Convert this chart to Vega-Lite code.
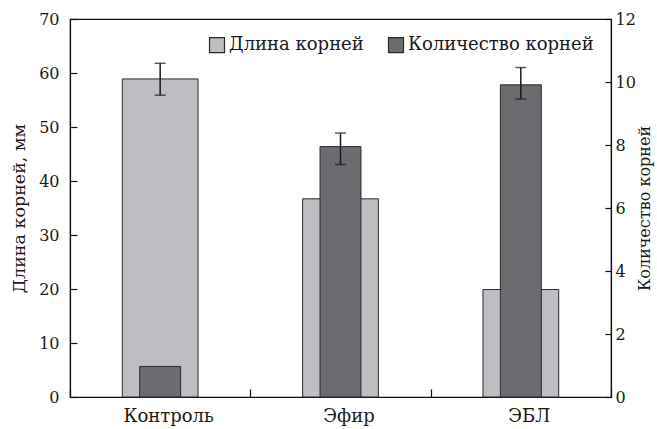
{
  "$schema": "https://vega.github.io/schema/vega-lite/v6.json",
  "width": 541,
  "height": 378,
  "autosize": {"type": "none"},
  "padding": {"left": 70, "top": 19, "right": 46, "bottom": 32},
  "background": "white",
  "config": {
    "font": "DejaVu Serif",
    "view": {"stroke": "#111111", "strokeWidth": 1.2},
    "axis": {
      "domainColor": "#111111", "domainWidth": 1.2,
      "tickColor": "#111111", "tickWidth": 1.2,
      "labelColor": "#1a1a1a", "titleColor": "#1a1a1a",
      "labelFont": "DejaVu Serif", "titleFont": "DejaVu Serif",
      "labelFontSize": 16, "titleFontSize": 17.5, "titleFontWeight": "normal",
      "grid": false
    },
    "legend": {
      "orient": "none", "legendX": 138, "legendY": 17,
      "direction": "horizontal", "padding": 0,
      "symbolType": "square", "symbolSize": 225,
      "symbolStrokeColor": "#2a2a2a", "symbolStrokeWidth": 1,
      "labelFont": "DejaVu Serif", "labelFontSize": 18, "labelColor": "#1a1a1a",
      "labelOffset": 3, "columnPadding": 22, "labelLimit": 400
    }
  },
  "data": {"values": [
    {"group": "Контроль", "len": 58.9, "cnt": 0.97},
    {"group": "Эфир", "len": 36.7, "cnt": 7.95},
    {"group": "ЭБЛ", "len": 19.9, "cnt": 9.91}
  ]},
  "layer": [
    {
      "layer": [
        {
          "mark": {"type": "bar", "stroke": "#2a2a2a", "strokeWidth": 1, "width": {"band": 0.42}},
          "encoding": {
            "x": {"field": "group", "type": "nominal", "sort": ["Контроль", "Эфир", "ЭБЛ"],
                  "scale": {"paddingInner": 0, "paddingOuter": 0},
                  "axis": {"title": null, "labelAngle": 0, "tickBand": "extent", "tickSize": -8,
                           "labelPadding": 18, "labelFontSize": 18, "labelOffset": 8}},
            "y": {"field": "len", "type": "quantitative",
                  "scale": {"domain": [0, 70], "nice": false},
                  "axis": {"values": [0, 10, 20, 30, 40, 50, 60, 70], "tickSize": -7, "labelPadding": 18,
                           "title": "Длина корней, мм", "titlePadding": 10}},
            "color": {"datum": "Длина корней",
                      "scale": {"domain": ["Длина корней", "Количество корней"], "range": ["#bdbec2", "#6b6c70"]},
                      "legend": {"title": null,
                                 "encode": {"symbols": {"update": {"stroke": {"value": "#2a2a2a"}, "strokeWidth": {"value": 1.2}}}}}}
          }
        },
        {
          "data": {"values": [{"group": "Контроль", "lo": 55.9, "hi": 61.8}]},
          "mark": {"type": "errorbar", "color": "#1a1a1a", "ticks": {"size": 11, "thickness": 1.5}, "rule": {"strokeWidth": 1.5}},
          "encoding": {
            "x": {"field": "group", "type": "nominal", "sort": ["Контроль", "Эфир", "ЭБЛ"]},
            "y": {"field": "lo", "type": "quantitative", "title": "Длина корней, мм"},
            "y2": {"field": "hi"}
          }
        }
      ]
    },
    {
      "layer": [
        {
          "mark": {"type": "bar", "stroke": "#2a2a2a", "strokeWidth": 1, "width": {"band": 0.227}},
          "encoding": {
            "x": {"field": "group", "type": "nominal", "sort": ["Контроль", "Эфир", "ЭБЛ"]},
            "y": {"field": "cnt", "type": "quantitative",
                  "scale": {"domain": [0, 12], "nice": false},
                  "axis": {"orient": "right", "values": [0, 2, 4, 6, 8, 10, 12], "tickSize": -6, "labelPadding": 10,
                           "title": "Количество корней", "titleAngle": 270, "titleBaseline": "top", "titlePadding": 1,
                           "titleFontSize": 16}},
            "color": {"datum": "Количество корней"}
          }
        },
        {
          "data": {"values": [
            {"group": "Эфир", "lo": 7.38, "hi": 8.38},
            {"group": "ЭБЛ", "lo": 9.46, "hi": 10.46}
          ]},
          "mark": {"type": "errorbar", "color": "#1a1a1a", "ticks": {"size": 11, "thickness": 1.5}, "rule": {"strokeWidth": 1.5}},
          "encoding": {
            "x": {"field": "group", "type": "nominal", "sort": ["Контроль", "Эфир", "ЭБЛ"]},
            "y": {"field": "lo", "type": "quantitative", "title": "Количество корней"},
            "y2": {"field": "hi"}
          }
        }
      ]
    }
  ],
  "resolve": {"scale": {"y": "independent"}}
}
